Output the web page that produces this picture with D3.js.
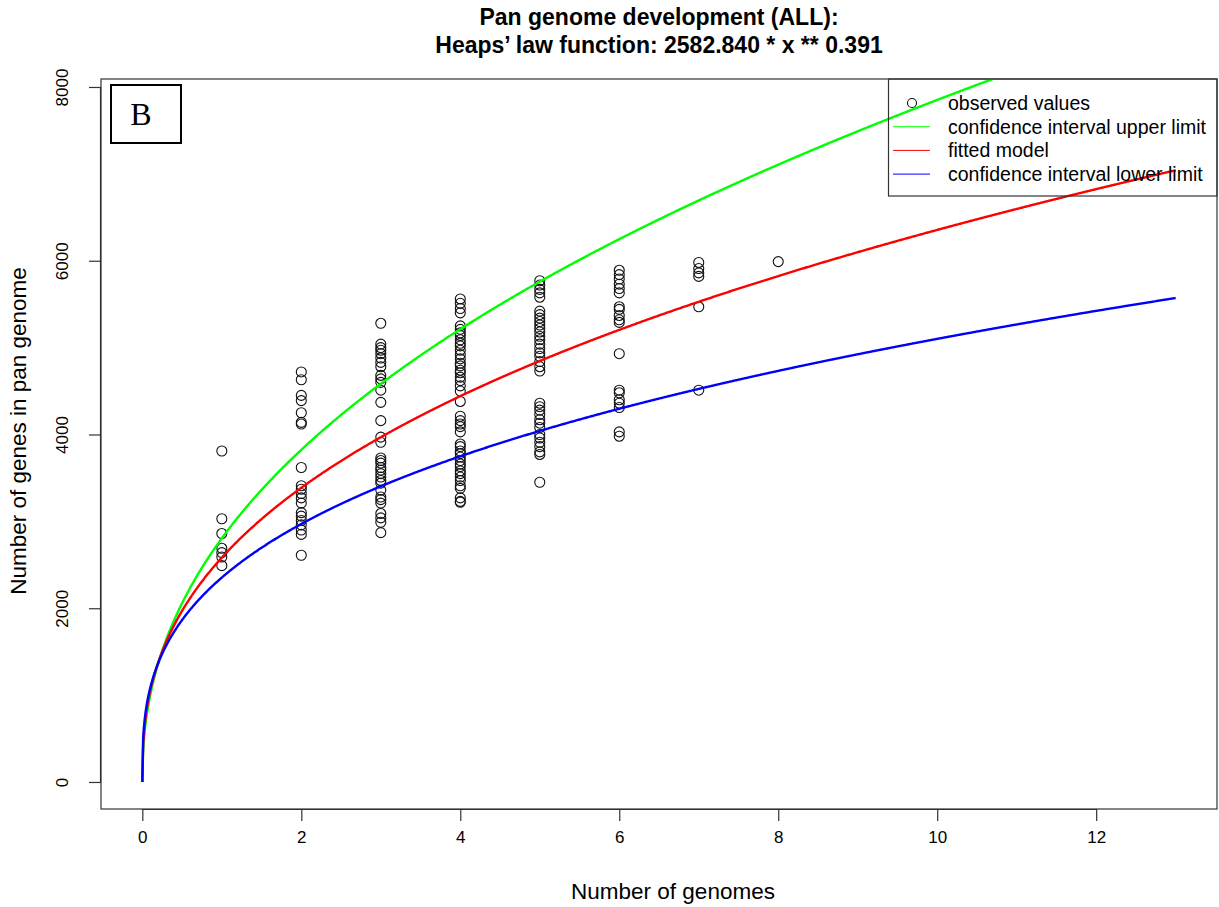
<!DOCTYPE html>
<html>
<head>
<meta charset="utf-8">
<script src="https://cdn.jsdelivr.net/npm/d3@7"></script>
<style>
  html, body { margin: 0; padding: 0; background: #fff; }
  svg { display: block; }
  text { font-family: "Liberation Sans", Arial, Helvetica, sans-serif; fill: #000; }
</style>
</head>
<body>
<svg id="chart" width="1219" height="907"></svg>
<script>
// ---------- DATA ----------
const titleLines = ["Pan genome development (ALL):", "Heaps\u2019 law function: 2582.840 * x ** 0.391"];
const xLabel = "Number of genomes";
const yLabel = "Number of genes in pan genome";
const xTicks = [0, 2, 4, 6, 8, 10, 12];
const yTicks = [0, 2000, 4000, 6000, 8000];
const panelLabel = "B";

// observed pan-genome sizes, by number of genomes
const genomeCounts = [1, 2, 3, 4, 5, 6, 7, 8];
const obs1 = [3810, 3030, 2860, 2690, 2640, 2590, 2490];
const obs2 = [4720, 4630, 4450, 4390, 4250, 4140, 4120, 3620, 3410, 3370, 3320, 3270, 3210, 3100, 3060, 3010, 2960, 2900, 2850, 2610];
const obs3 = [5280, 5040, 5000, 4970, 4930, 4880, 4830, 4780, 4680, 4640, 4600, 4510, 4370, 4160, 3970, 3910, 3730, 3700, 3670, 3620, 3590, 3550, 3510, 3470, 3440, 3360, 3280, 3250, 3210, 3090, 3040, 2990, 2870];
const obs4 = [5560, 5510, 5450, 5400, 5250, 5210, 5170, 5140, 5090, 5050, 5020, 4970, 4920, 4870, 4820, 4790, 4740, 4710, 4660, 4620, 4560, 4500, 4380, 4210, 4160, 4120, 4090, 4030, 3890, 3860, 3810, 3780, 3740, 3700, 3660, 3630, 3580, 3550, 3510, 3470, 3410, 3380, 3270, 3230, 3220];
const obs5 = [5770, 5720, 5670, 5630, 5580, 5420, 5380, 5340, 5300, 5260, 5220, 5180, 5130, 5090, 5040, 4990, 4940, 4900, 4840, 4780, 4730, 4360, 4320, 4280, 4230, 4170, 4130, 4080, 4000, 3960, 3910, 3860, 3800, 3770, 3450];
const obs6 = [5890, 5840, 5790, 5730, 5680, 5630, 5470, 5440, 5370, 5320, 5290, 4930, 4510, 4480, 4400, 4360, 4310, 4030, 3980];
const obs7 = [5980, 5910, 5860, 5820, 5470, 4510];
const obs8 = [5990];
const observed = [obs1, obs2, obs3, obs4, obs5, obs6, obs7, obs8];

// Heaps' law curves y = a * x^b  (upper limit, fitted model, lower limit)
const curveNames  = ["confidence interval upper limit", "fitted model", "confidence interval lower limit"];
const curveA      = [2805, 2582.840, 2353];
const curveB      = [0.447, 0.391, 0.336];
const curveColors = ["#00ff00", "#ff0000", "#0000ff"];
const curveXMax   = 13;

// ---------- LAYOUT ----------
const svg = d3.select("#chart");
const box = { left: 101, right: 1217, top: 79, bottom: 809 };

const x = d3.scaleLinear().domain([-0.52, 13.52]).range([box.left, box.right]);
const y = d3.scaleLinear().domain([-311, 8092]).range([box.bottom, box.top]);

// title
svg.append("g").selectAll("text").data(titleLines).join("text")
  .attr("x", (box.left + box.right) / 2).attr("y", (d, i) => 25 + i * 28)
  .attr("text-anchor", "middle")
  .style("font-weight", "bold").style("font-size", "23px")
  .text(d => d);

// clip
svg.append("clipPath").attr("id", "plotclip").append("rect")
  .attr("x", box.left).attr("y", box.top)
  .attr("width", box.right - box.left).attr("height", box.bottom - box.top);

// axes
const xAxis = d3.axisBottom(x).tickValues(xTicks).tickSize(12).tickPadding(8).tickFormat(d3.format("d"));
const gx = svg.append("g").attr("transform", `translate(0,${box.bottom})`).call(xAxis);
gx.select(".domain").attr("d", `M${x(0)},0.5H${x(12)}`);
gx.selectAll("text").style("font-size", "17px").attr("dy", "0.85em");

const yAxis = d3.axisLeft(y).tickValues(yTicks).tickSize(12).tickFormat(d3.format("d"));
const gy = svg.append("g").attr("transform", `translate(${box.left},0)`).call(yAxis);
gy.select(".domain").attr("d", `M-0.5,${y(0)}V${y(8000)}`);
gy.selectAll(".tick text")
  .attr("x", null).attr("dy", null)
  .attr("text-anchor", "middle")
  .attr("transform", "translate(-33,0) rotate(-90)")
  .style("font-size", "17px");
svg.selectAll(".domain").attr("stroke", "#333").attr("stroke-width", 1.2);
svg.selectAll(".tick line").attr("stroke", "#333").attr("stroke-width", 1.2);

// plot frame
svg.append("rect")
  .attr("x", box.left).attr("y", box.top)
  .attr("width", box.right - box.left).attr("height", box.bottom - box.top)
  .attr("fill", "none").attr("stroke", "#333").attr("stroke-width", 1.2);

// axis titles
svg.append("text").attr("x", 673).attr("y", 899).attr("text-anchor", "middle")
  .style("font-size", "22.5px").text(xLabel);
svg.append("text").attr("transform", "translate(26,431) rotate(-90)").attr("text-anchor", "middle")
  .style("font-size", "22.5px").text(yLabel);

// points
const pts = [];
observed.forEach((arr, i) => arr.forEach(v => pts.push([genomeCounts[i], v])));
svg.append("g").selectAll("circle").data(pts).join("circle")
  .attr("cx", d => x(d[0])).attr("cy", d => y(d[1])).attr("r", 5)
  .attr("fill", "none").attr("stroke", "#111").attr("stroke-width", 1.1);

// curves
const xs = d3.range(0, curveXMax + 1e-9, 0.01);
const line = d3.line().x(d => x(d[0])).y(d => y(d[1]));
const gc = svg.append("g").attr("clip-path", "url(#plotclip)");
curveNames.forEach((name, i) => {
  const data = xs.map(v => [v, curveA[i] * Math.pow(v, curveB[i])]);
  gc.append("path").datum(data).attr("d", line)
    .attr("fill", "none").attr("stroke", curveColors[i]).attr("stroke-width", 2.4);
});

// legend
const legend = svg.append("g");
legend.append("rect").attr("x", 888.5).attr("y", box.top).attr("width", box.right - 888.5).attr("height", 117)
  .attr("fill", "none").attr("stroke", "#333").attr("stroke-width", 1.2);
const legItems = [{ label: "observed values", type: "point" }]
  .concat(curveNames.map((n, i) => ({ label: n, type: "line", color: curveColors[i] })));
legItems.forEach((it, i) => {
  const cy = 103 + i * 23.7;
  if (it.type === "point") {
    legend.append("circle").attr("cx", 912).attr("cy", cy).attr("r", 4.5)
      .attr("fill", "none").attr("stroke", "#111").attr("stroke-width", 1.1);
  } else {
    legend.append("line").attr("x1", 893).attr("x2", 930).attr("y1", cy).attr("y2", cy)
      .attr("stroke", it.color).attr("stroke-width", 1);
  }
  legend.append("text").attr("x", 948).attr("y", cy + 7).style("font-size", "19.5px").text(it.label);
});

// panel label box
svg.append("rect").attr("x", 111).attr("y", 85).attr("width", 70).attr("height", 58)
  .attr("fill", "#fff").attr("stroke", "#000").attr("stroke-width", 2);
svg.append("text").attr("x", 141).attr("y", 125).attr("text-anchor", "middle")
  .style("font-family", "'Liberation Serif', 'Times New Roman', serif").style("font-size", "32px")
  .text(panelLabel);
</script>
</body>
</html>
